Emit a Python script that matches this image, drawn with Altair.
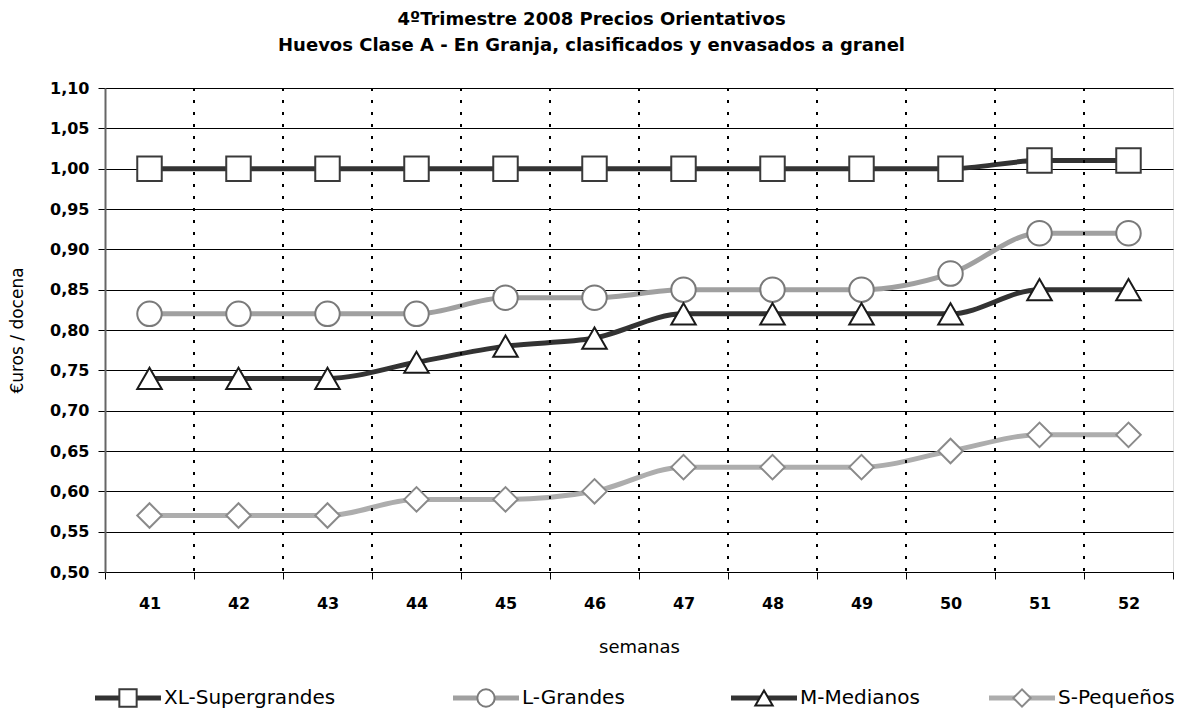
import altair as alt
import pandas as pd

weeks = ["41", "42", "43", "44", "45", "46", "47", "48", "49", "50", "51", "52"]
series = ["XL-Supergrandes", "L-Grandes", "M-Medianos", "S-Pequeños"]
xl_values = [1.00, 1.00, 1.00, 1.00, 1.00, 1.00, 1.00, 1.00, 1.00, 1.00, 1.01, 1.01]
l_values = [0.82, 0.82, 0.82, 0.82, 0.84, 0.84, 0.85, 0.85, 0.85, 0.87, 0.92, 0.92]
m_values = [0.74, 0.74, 0.74, 0.76, 0.78, 0.79, 0.82, 0.82, 0.82, 0.82, 0.85, 0.85]
s_values = [0.57, 0.57, 0.57, 0.59, 0.59, 0.60, 0.63, 0.63, 0.63, 0.65, 0.67, 0.67]
y_ticks = [0.50, 0.55, 0.60, 0.65, 0.70, 0.75, 0.80, 0.85, 0.90, 0.95, 1.00, 1.05, 1.10]

title_lines = ["4ºTrimestre 2008  Precios Orientativos",
               "Huevos Clase A - En Granja, clasificados y envasados a granel"]

FONT = "DejaVu Sans"
line_colors = ["#333333", "#a0a0a0", "#333333", "#adadad"]
marker_strokes = ["#3a3a3a", "#7a7a7a", "#1a1a1a", "#8a8a8a"]
shapes = ["square", "circle", "triangle-up", "diamond"]
marker_sizes = [600, 600, 620, 470]
legend_sizes = [300, 300, 320, 250]

# layout constants
PLOT_W = 1068
PLOT_H = 484
PLOT_LEFT = 105
legend_centers = [128, 486, 764, 1022]
LEGEND_Y = 698 - 88

rows = []
for name, vals in zip(series, [xl_values, l_values, m_values, s_values]):
    for w, v in zip(weeks, vals):
        rows.append({"week": w, "serie": name, "value": v})
df = pd.DataFrame(rows)

bounds_df = pd.DataFrame({"week": weeks[1:]})

leg = pd.DataFrame({"serie": series, "cx": legend_centers})
leg["x1"] = leg["cx"] - 33
leg["x2"] = leg["cx"] + 33
leg["tx"] = leg["cx"] + 36

x_enc = alt.X(
    "week:O",
    sort=weeks,
    scale=alt.Scale(domain=weeks, paddingInner=0, paddingOuter=0),
    axis=alt.Axis(
        title="semanas",
        labelAngle=0,
        labelFont=FONT, labelFontSize=16, labelFontWeight="bold", labelColor="#000",
        labelPadding=16,
        titleFont=FONT, titleFontSize=18, titleFontWeight="normal", titleColor="#000",
        titlePadding=27,
        tickBand="extent", ticks=True, tickSize=7, tickColor="#000", tickWidth=1,
        grid=False,
        domain=True, domainColor="#000", domainWidth=1,
    ),
)
y_enc = alt.Y(
    "value:Q",
    scale=alt.Scale(domain=[0.5, 1.1], nice=False, zero=False),
    axis=alt.Axis(
        title="€uros / docena",
        values=y_ticks,
        labelExpr="replace(format(datum.value, '.2f'), '.', ',')",
        labelFont=FONT, labelFontSize=16, labelFontWeight="bold", labelColor="#000",
        labelPadding=9,
        titleFont=FONT, titleFontSize=17, titleFontWeight="normal", titleColor="#000",
        titlePadding=23,
        ticks=True, tickSize=7, tickColor="#000",
        grid=True, gridColor="#000", gridWidth=1, gridOpacity=1,
        domain=True, domainColor="#666", domainWidth=2,
    ),
)

color_scale = alt.Scale(domain=series, range=line_colors)
stroke_scale = alt.Scale(domain=series, range=marker_strokes)
shape_scale = alt.Scale(domain=series, range=shapes)

vgrid = alt.Chart(bounds_df).mark_rule(color="#000", strokeWidth=2, strokeDash=[3, 9]).encode(
    x=alt.X("week:O", sort=weeks, bandPosition=0),
    y=alt.value(0),
    y2=alt.value(PLOT_H),
)
lines = alt.Chart(df).mark_line(interpolate="monotone", strokeWidth=5).encode(
    x=x_enc, y=y_enc,
    color=alt.Color("serie:N", scale=color_scale, legend=None),
    detail="serie:N",
)
points = alt.Chart(df).mark_point(filled=False, fill="white", fillOpacity=1, strokeWidth=2, opacity=1).encode(
    x=alt.X("week:O", sort=weeks),
    y="value:Q",
    stroke=alt.Stroke("serie:N", scale=stroke_scale, legend=None),
    shape=alt.Shape("serie:N", scale=shape_scale, legend=None),
    size=alt.Size("serie:N", scale=alt.Scale(domain=series, range=marker_sizes), legend=None),
)
main = alt.layer(lines, vgrid, points)

lx = alt.Scale(domain=[PLOT_LEFT, PLOT_LEFT + PLOT_W], range=[0, PLOT_W])
leg_lines = alt.Chart(leg).mark_rule(strokeWidth=5).encode(
    x=alt.X("x1:Q", scale=lx, axis=None),
    x2="x2:Q",
    y=alt.value(LEGEND_Y),
    color=alt.Color("serie:N", scale=color_scale, legend=None),
)
leg_points = alt.Chart(leg).mark_point(filled=False, fill="white", fillOpacity=1, strokeWidth=2, opacity=1).encode(
    x=alt.X("cx:Q", scale=lx, axis=None),
    y=alt.value(LEGEND_Y),
    stroke=alt.Stroke("serie:N", scale=stroke_scale, legend=None),
    shape=alt.Shape("serie:N", scale=shape_scale, legend=None),
    size=alt.Size("serie:N", scale=alt.Scale(domain=series, range=legend_sizes), legend=None),
)
leg_text = alt.Chart(leg).mark_text(align="left", baseline="middle", font=FONT, fontSize=20, color="#000").encode(
    x=alt.X("tx:Q", scale=lx, axis=None),
    y=alt.value(LEGEND_Y),
    text="serie:N",
)
legend_layer = alt.layer(leg_lines, leg_points, leg_text)

chart = alt.layer(main, legend_layer).resolve_scale(
    x="independent", color="shared", stroke="shared", shape="independent", size="independent"
).properties(
    width=PLOT_W,
    height=PLOT_H,
    title=alt.TitleParams(
        text=title_lines, font=FONT, fontSize=18, fontWeight="bold", color="#000",
        anchor="middle", frame="bounds", lineHeight=26, offset=25,
    ),
    padding={"left": 0, "top": 3, "right": 0, "bottom": 2},
).configure_view(stroke=None).configure(background="white")

chart.save("out.html", embed_options={"renderer": "svg", "actions": False})
